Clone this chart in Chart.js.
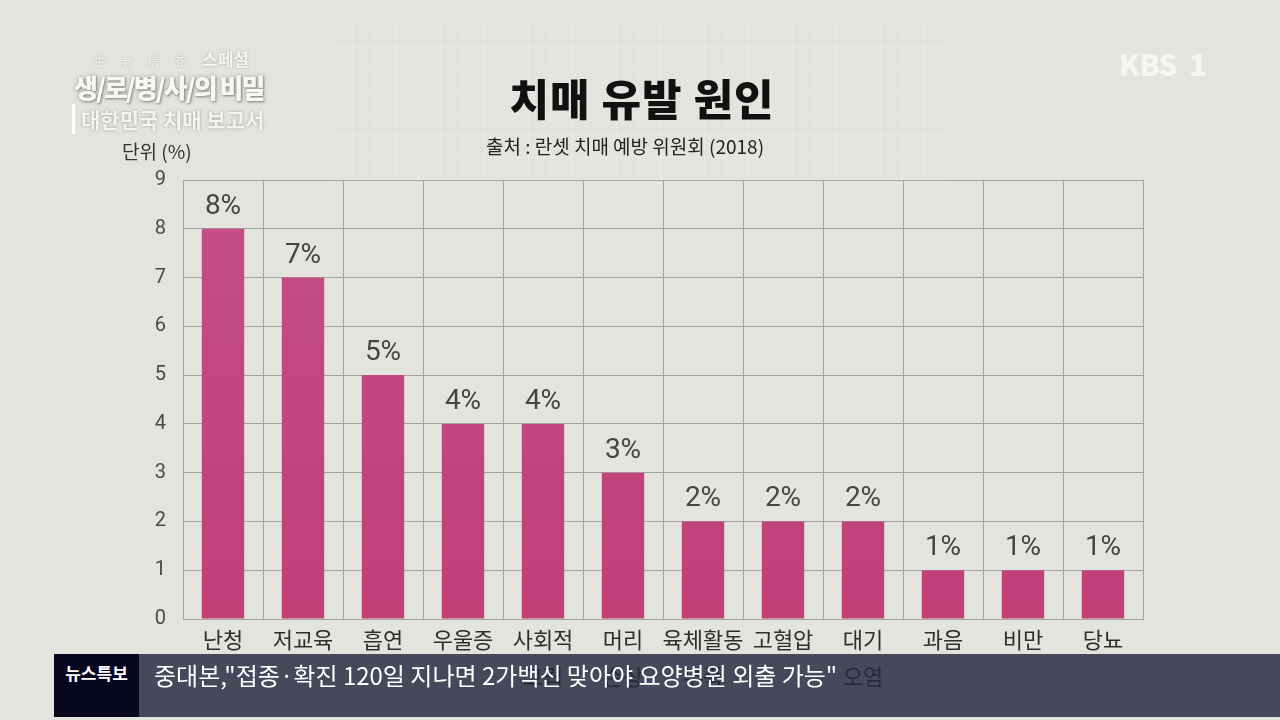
<!DOCTYPE html>
<html><head><meta charset="utf-8">
<script src="https://cdn.jsdelivr.net/npm/chart.js@4.4.0/dist/chart.umd.min.js"></script>
<style>
html,body{margin:0;padding:0;width:1280px;height:720px;overflow:hidden;background:#e4e4df;font-family:"Noto Sans CJK KR","Noto Sans",sans-serif;}
#wrap{position:absolute;left:0;top:0;width:1280px;height:720px;}
#bggrid{position:absolute;left:330px;top:20px;width:620px;height:160px;
 background-image:repeating-linear-gradient(0deg,rgba(255,255,255,0.18) 0 1px,transparent 1px 22px),repeating-linear-gradient(90deg,rgba(255,255,255,0.18) 0 1px,transparent 1px 22px);}
canvas{position:absolute;left:0;top:0;}
.t{position:absolute;white-space:nowrap;}
#title{left:0;width:1280px;top:66px;text-align:center;font-size:43px;font-weight:900;color:#111;letter-spacing:1px;padding-left:4px;box-sizing:border-box;}
#sub{left:0;width:1280px;top:132px;text-align:center;font-size:19px;color:#222;padding-right:30px;box-sizing:border-box;}
#unit{left:122px;top:137px;font-size:19px;color:#333;}
#logo1{left:94px;top:46px;font-size:11px;color:#f4f4f0;text-shadow:0 0 3px #aaa;letter-spacing:16px;}
#logo1 b{font-size:17px;letter-spacing:0;font-weight:700;}
#logo2{left:74px;top:68px;font-size:26px;font-weight:900;color:#f7f7f3;text-shadow:0 0 4px #999,1px 1px 2px #888;letter-spacing:-2px;}
#logo3{left:72px;top:104px;font-size:21px;font-weight:700;color:#f4f4f0;text-shadow:0 0 3px #999;border-left:3px solid #fff;padding-left:6px;}
#kbs{left:1119px;top:41px;font-size:30px;font-weight:900;color:#f4f7f0;letter-spacing:-1px;}
#kbs1{left:1189px;top:41px;font-size:30px;font-weight:900;color:#f4f7f0;}
#ticker{position:absolute;left:54px;top:654px;width:1226px;height:63px;background:rgba(35,39,62,0.82);}
#tbox{position:absolute;left:0;top:0;width:85px;height:63px;background:#07071f;color:#fff;font-size:17px;font-weight:700;text-align:center;line-height:38px;}
#ttext{position:absolute;left:100px;top:4px;color:#fff;font-size:24px;line-height:34px;}
</style></head>
<body><div id="wrap">
<div id="bggrid"></div>
<canvas id="c" width="1280" height="720"></canvas>
<div class="t" id="logo1">生老病死<b>스페셜</b></div>
<div class="t" id="logo2">생/로/병/사/의 비밀</div>
<div class="t" id="logo3">대한민국 치매 보고서</div>
<div class="t" id="kbs">KBS</div>
<div class="t" id="kbs1">1</div>
<div class="t" id="title">치매 유발 원인</div>
<div class="t" id="sub">출처 : 란셋 치매 예방 위원회 (2018)</div>
<div class="t" id="unit">단위 (%)</div>
<div id="ticker"><div id="tbox">뉴스특보</div><div id="ttext">중대본,"접종·확진 120일 지나면 2가백신 맞아야 요양병원 외출 가능"</div></div>
</div>
<script>
const categories = [['난청'],['저교육'],['흡연'],['우울증'],['사회적','고립'],['머리','손상'],['육체활동','부족'],['고혈압'],['대기','오염'],['과음'],['비만'],['당뇨']];
const values = [8,7,5,4,4,3,2,2,2,1,1,1];
const yTicks = [0,1,2,3,4,5,6,7,8,9];

const FONT = '"Noto Sans CJK KR","Noto Sans",sans-serif';
const labelPlugin = {
  id:'pctLabels',
  afterDatasetsDraw(chart){
    const ctx = chart.ctx;
    const meta = chart.getDatasetMeta(0);
    ctx.save();
    ctx.font = '28px Roboto, ' + FONT;
    ctx.fillStyle = '#454545';
    ctx.textAlign = 'center';
    ctx.textBaseline = 'middle';
    meta.data.forEach((bar,i)=>{
      ctx.fillText(values[i] + '%', bar.x, bar.y - 22);
    });
    ctx.restore();
  }
};

const ctx = document.getElementById('c').getContext('2d');
const grad = ctx.createLinearGradient(0,180,0,620);
grad.addColorStop(0,'#c44f86');
grad.addColorStop(1,'#c23f78');

new Chart(ctx,{
  type:'bar',
  data:{labels:categories,datasets:[{data:values,backgroundColor:grad,borderWidth:0,barPercentage:0.53,categoryPercentage:1}]},
  options:{
    responsive:false,animation:false,
    layout:{padding:{left:0,right:137,top:180,bottom:0}},
    plugins:{legend:{display:false},tooltip:{enabled:false}},
    scales:{
      x:{
        grid:{color:'#a3a39f',lineWidth:1,drawTicks:false},
        border:{color:'#a3a39f'},
        ticks:{color:'#2e2e2e',font:{family:FONT,size:22,lineHeight:1.7},padding:2,maxRotation:0,autoSkip:false},
        afterFit(s){s.height=101;}
      },
      y:{
        min:0,max:9,
        afterBuildTicks(s){s.ticks=yTicks.map(v=>({value:v}));},
        grid:{color:'#a3a39f',lineWidth:1,drawTicks:false},
        border:{color:'#a3a39f'},
        ticks:{color:'#4a4a4a',font:{family:'Roboto, '+FONT,size:20},padding:17},
        afterFit(s){s.width=183;}
      }
    }
  },
  plugins:[labelPlugin]
});
</script>
</body></html>
